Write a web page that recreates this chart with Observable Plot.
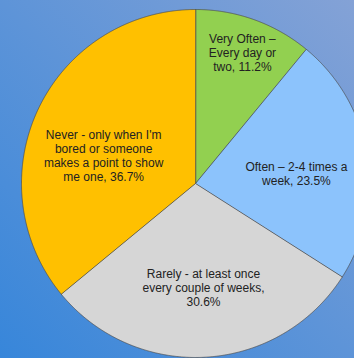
<!DOCTYPE html>
<html><head><meta charset="utf-8">
<script src="https://cdn.jsdelivr.net/npm/d3@7"></script>
<script src="https://cdn.jsdelivr.net/npm/@observablehq/plot@0.6"></script>
<style>
html,body{margin:0;padding:0;}
#chart{width:354px;height:358px;background:linear-gradient(to top right,#3786da,#84a2d6);overflow:hidden}
#chart svg{display:block}
</style></head><body><div id="chart"></div>
<script>
const categories = ["Very Often – Every day or two", "Often – 2-4 times a week", "Rarely - at least once every couple of weeks", "Never - only when I'm bored or someone makes a point to show me one"];
const labels = ["Very Often –\nEvery day or\ntwo, 11.2%", "Often – 2-4 times a\nweek, 23.5%", "Rarely - at least once\nevery couple of weeks,\n30.6%", "Never - only when I'm\nbored or someone\nmakes a point to show\nme one, 36.7%"];
const values = [11.2, 23.5, 30.6, 36.7];
const colors = ["#92d050", "#8cc3fc", "#d6d6d6", "#ffc000"];

// layout (pixels / polar label placement)
const W = 354, H = 358, CX = 195, CY = 183, R = 174;
const labelPolar = [[19.7, 0.80], [84.3, 0.583], [175.6, 0.598], [287, 0.552]];

const arcs = d3.pie().sort(null).value(d => d)(values);
const slicePts = arcs.map((a, i) => {
  const pts = [{x: 0, y: 0}];
  const n = Math.max(2, Math.ceil((a.endAngle - a.startAngle) / 0.005));
  for (let k = 0; k <= n; k++) {
    const t = a.startAngle + (a.endAngle - a.startAngle) * k / n;
    pts.push({x: Math.sin(t), y: Math.cos(t)});
  }
  return pts;
});
const labelData = labels.map((t, i) => {
  const ang = labelPolar[i][0] * Math.PI / 180, rr = labelPolar[i][1];
  return {text: t, x: rr * Math.sin(ang), y: rr * Math.cos(ang)};
});

const chart = Plot.plot({
  width: W, height: H,
  margin: 0,
  style: {background: "transparent"},
  x: {domain: [-CX / R, (W - CX) / R], axis: null},
  y: {domain: [-(H - CY) / R, CY / R], axis: null},
  marks: [
    ...slicePts.map((pts, i) => Plot.line(pts, {x: "x", y: "y", fill: colors[i], stroke: "#4a4a4a", strokeWidth: 0.7, curve: "linear-closed", strokeLinejoin: "round"})),
    Plot.text(labelData, {x: "x", y: "y", text: "text", fontSize: 12, fill: "#222", lineHeight: 1.17, fontFamily: "Liberation Sans, Arial, sans-serif", textAnchor: "middle"})
  ]
});
document.getElementById("chart").appendChild(chart);
</script></body></html>
